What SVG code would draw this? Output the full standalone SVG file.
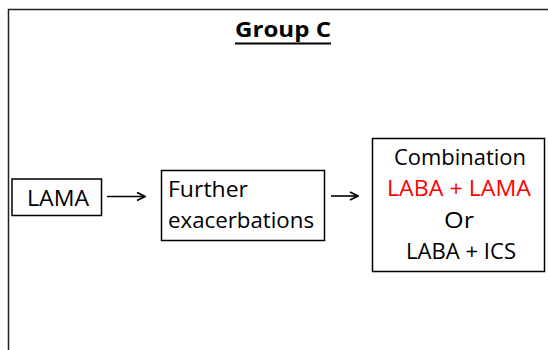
<svg xmlns="http://www.w3.org/2000/svg" width="548" height="350" viewBox="0 0 548 350">
  <defs>
    <marker id="arrow" viewBox="0 0 10 10" refX="9" refY="5" markerWidth="10" markerHeight="10" markerUnits="userSpaceOnUse" orient="auto">
      <path d="M1,1 L9,5 L1,9" fill="none" stroke="#000" stroke-width="1.8"/>
    </marker>
  </defs>
  <style>
    .box { fill: #fff; stroke: #000; stroke-width: 1.5; }
    .lbl { font-family: "Open Sans", "Liberation Sans", sans-serif; font-size: 21.5px; fill: #000; }
    .red { fill: #ff0000; }
    .edge { stroke: #000; stroke-width: 1.6; fill: none; marker-end: url(#arrow); }
  </style>
  <rect width="548" height="350" fill="#fff"/>
  <!-- outer frame (open to the right and bottom) -->
  <path d="M8.5,352 L8.5,9.5 L550,9.5" fill="none" stroke="#222" stroke-width="1.5"/>

  <g id="title">
    <text x="283" y="37" text-anchor="middle" class="lbl" font-weight="bold" font-size="23" textLength="96" lengthAdjust="spacingAndGlyphs">Group C</text>
    <line x1="235" y1="43.5" x2="331" y2="43.5" stroke="#000" stroke-width="1.8"/>
  </g>

  <g id="lama">
    <rect class="box" x="12" y="179" width="89.5" height="36.5"/>
    <text class="lbl" x="27" y="205.5" textLength="62" lengthAdjust="spacingAndGlyphs">LAMA</text>
  </g>

  <g id="further">
    <rect class="box" x="161.5" y="170.5" width="163" height="70"/>
    <text class="lbl" x="168" y="197" textLength="80" lengthAdjust="spacingAndGlyphs">Further</text>
    <text class="lbl" x="168" y="228" textLength="146" lengthAdjust="spacingAndGlyphs">exacerbations</text>
  </g>

  <g id="combination">
    <rect class="box" x="372.5" y="138.5" width="172" height="133"/>
    <text class="lbl" x="460" y="165" text-anchor="middle" textLength="132" lengthAdjust="spacingAndGlyphs">Combination</text>
    <text class="lbl red" x="459" y="196" text-anchor="middle" textLength="144" lengthAdjust="spacingAndGlyphs">LABA + LAMA</text>
    <text class="lbl" x="459" y="228" text-anchor="middle" textLength="30" lengthAdjust="spacingAndGlyphs">Or</text>
    <text class="lbl" x="461" y="259" text-anchor="middle" textLength="110" lengthAdjust="spacingAndGlyphs">LABA + ICS</text>
  </g>

  <g id="connectors">
    <line class="edge" x1="107" y1="196.5" x2="145" y2="196.5"/>
    <line class="edge" x1="331" y1="196" x2="358" y2="196"/>
  </g>
</svg>
